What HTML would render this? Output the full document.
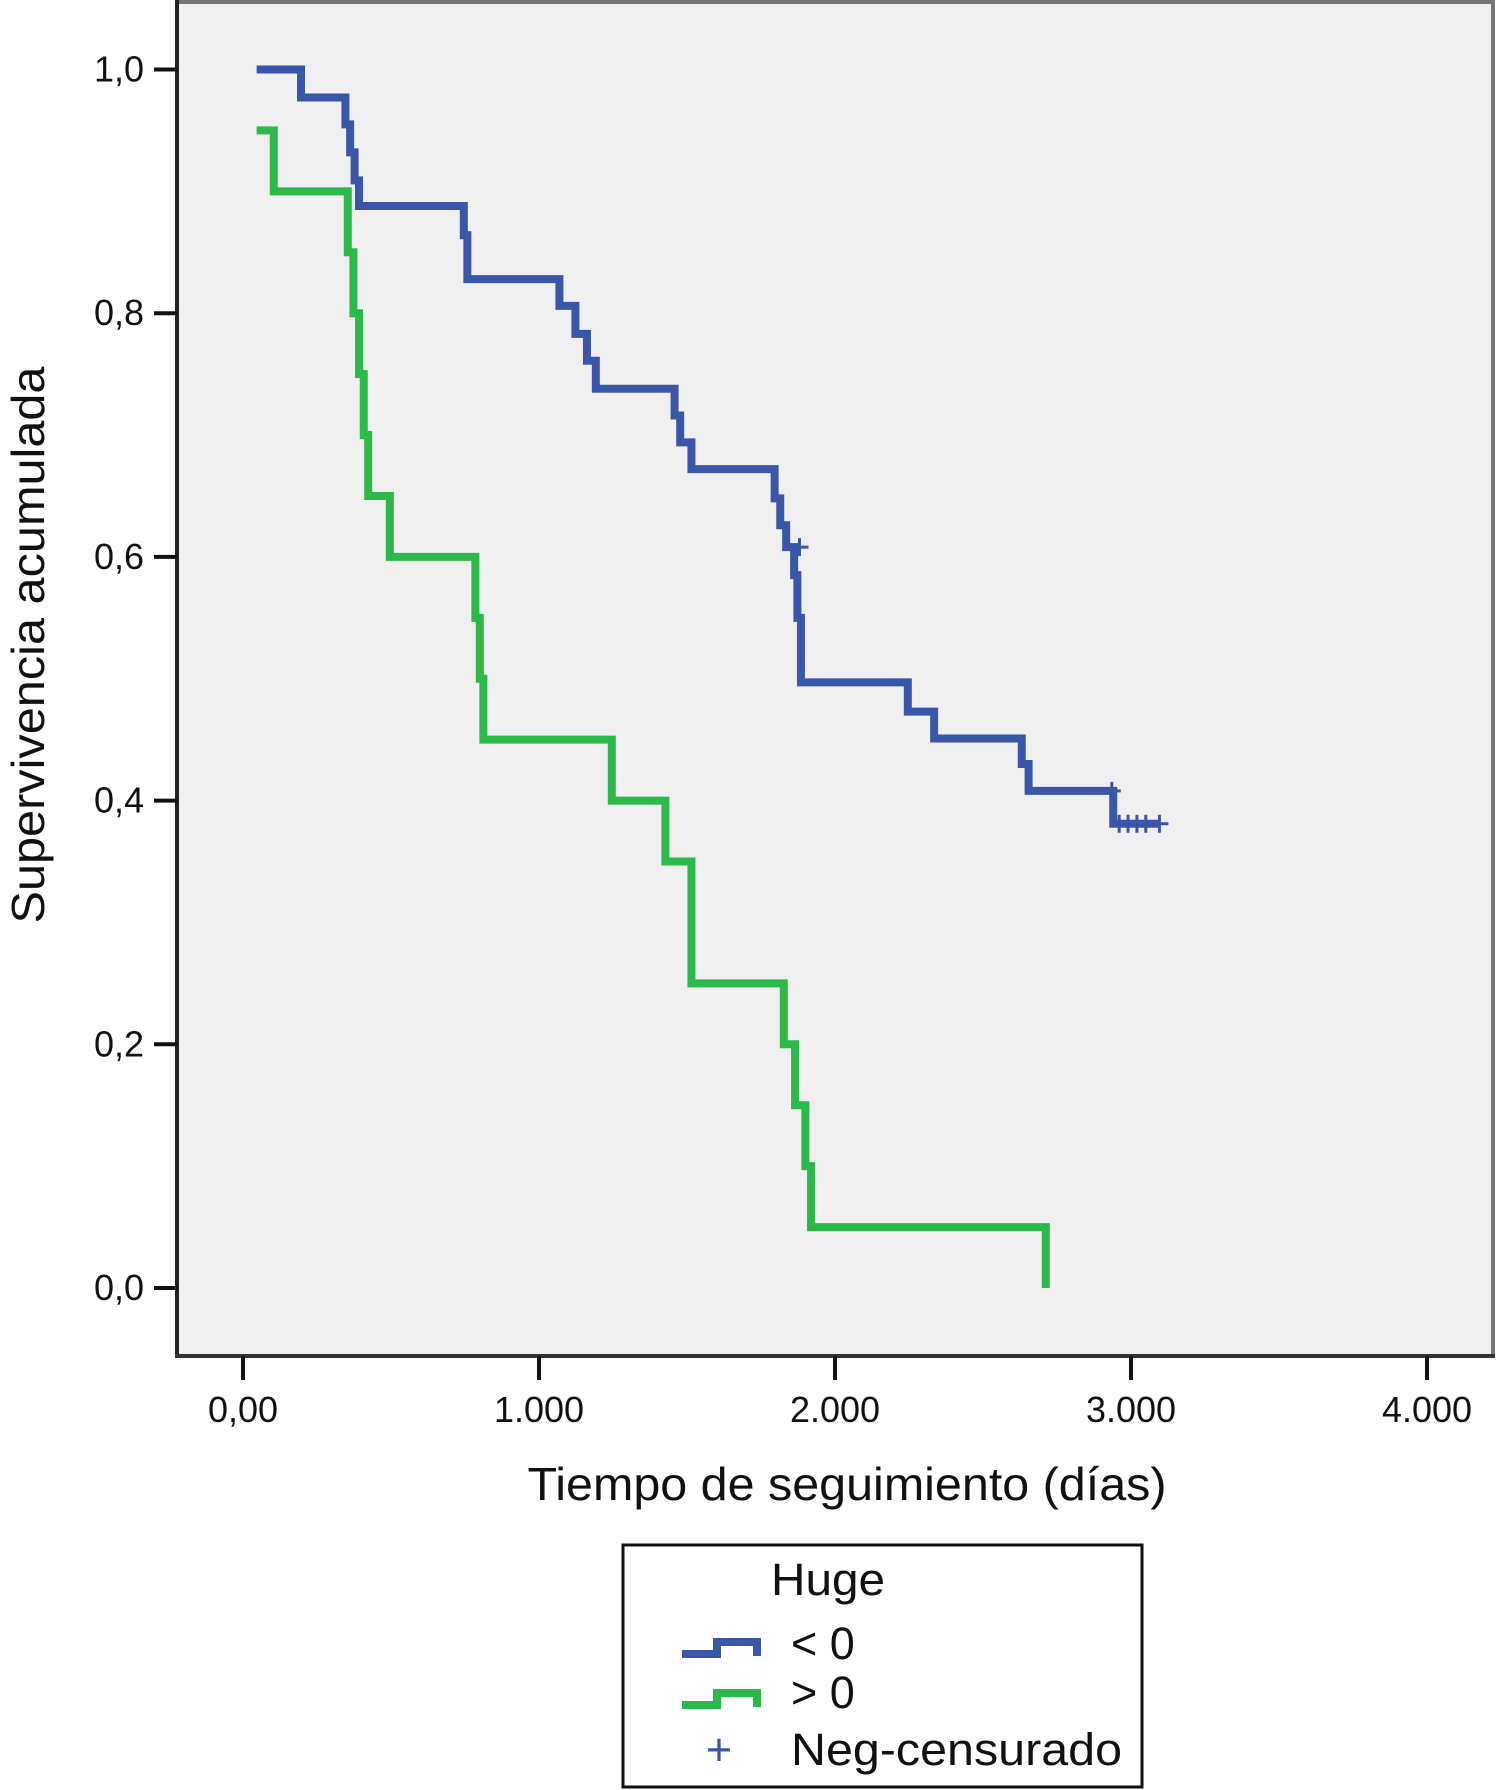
<!DOCTYPE html>
<html><head><meta charset="utf-8"><style>
html,body{margin:0;padding:0;background:#fff;}
svg{display:block;font-family:"Liberation Sans",sans-serif;}
</style></head><body>
<svg id="chart" width="1498" height="1790" viewBox="0 0 1498 1790" xmlns="http://www.w3.org/2000/svg">
<rect x="177" y="2" width="1316" height="1354" fill="#f0f0f0" stroke="#777" stroke-width="4"/>
<line x1="177" y1="0" x2="177" y2="1358" stroke="#222" stroke-width="4"/>
<line x1="175" y1="1356" x2="1495" y2="1356" stroke="#333" stroke-width="4"/>
<g id="yticks"></g>
<g id="xticks"></g>
<g id="series"></g>
<text x="847" y="1500" font-size="46" text-anchor="middle" textLength="639" lengthAdjust="spacingAndGlyphs" fill="#111">Tiempo de seguimiento (días)</text>
<text transform="translate(44,645) rotate(-90)" font-size="46" text-anchor="middle" textLength="557" lengthAdjust="spacingAndGlyphs" fill="#111">Supervivencia acumulada</text>
<g>
<rect x="623" y="1545" width="519" height="242" fill="#fff" stroke="#111" stroke-width="3"/>
<text x="771" y="1595" font-size="45" textLength="114" lengthAdjust="spacingAndGlyphs" fill="#111">Huge</text>
<path d="M682,1654 H717 V1642 H757 V1656" fill="none" stroke="#3a56a8" stroke-width="8"/>
<text x="791" y="1659" font-size="45" fill="#111">&lt; 0</text>
<path d="M682,1705 H717 V1693 H757 V1707" fill="none" stroke="#2db84a" stroke-width="8"/>
<text x="791" y="1708" font-size="45" fill="#111">&gt; 0</text>
<text x="719" y="1765" font-size="45" text-anchor="middle" fill="#3a56a8">+</text>
<text x="791" y="1765" font-size="45" textLength="331" lengthAdjust="spacingAndGlyphs" fill="#111">Neg-censurado</text>
</g>
</svg>
<script>
const yTickValues=[0,0.2,0.4,0.6,0.8,1.0];
const yTickLabels=["0,0","0,2","0,4","0,6","0,8","1,0"];
const xTickValues=[0,1000,2000,3000,4000];
const xTickLabels=["0,00","1.000","2.000","3.000","4.000"];
const blueTimes=[46,196,346,362,377,392,746,758,1069,1123,1162,1192,1458,1477,1515,1796,1815,1835,1862,1873,1885,2246,2335,2631,2654,2940];
const blueSurv=[1.0,0.977,0.955,0.932,0.909,0.888,0.864,0.828,0.806,0.783,0.761,0.738,0.716,0.694,0.672,0.648,0.626,0.608,0.585,0.55,0.497,0.473,0.451,0.43,0.408,0.381];
const blueEnd=3096;
const blueCensorTimes=[1880,2935,2960,2990,3020,3050,3096];
const blueCensorSurv=[0.608,0.408,0.381,0.381,0.381,0.381,0.381];
const greenTimes=[46,104,354,373,392,408,423,496,785,800,812,1246,1427,1515,1827,1865,1900,1919,2712];
const greenSurv=[0.95,0.90,0.85,0.80,0.75,0.70,0.65,0.60,0.55,0.50,0.45,0.40,0.35,0.25,0.20,0.15,0.10,0.05,0.0];
const X=v=>243+v*0.2960;
const Y=v=>1288-v*1218.5;
const NS="http://www.w3.org/2000/svg";
function mk(tag,attrs,parent){const e=document.createElementNS(NS,tag);for(const k in attrs)e.setAttribute(k,attrs[k]);parent.appendChild(e);return e;}
const yt=document.getElementById('yticks');
yTickValues.forEach((v,i)=>{
 const l=mk('line',{x1:154,x2:177,y1:Y(v),y2:Y(v),stroke:'#111','stroke-width':4},yt);
 
 
 const t=mk('text',{x:144,y:Y(v)+12,'font-size':36,'text-anchor':'end',fill:'#111'},yt);
 t.textContent=yTickLabels[i];
 
 
});
const xt=document.getElementById('xticks');
xTickValues.forEach((v,i)=>{
 const l=mk('line',{x1:X(v),x2:X(v),y1:1356,y2:1380,stroke:'#111','stroke-width':4},xt);
 
 
 const t=mk('text',{x:X(v),y:1422,'font-size':36,'text-anchor':'middle',fill:'#111'},xt);
 t.textContent=xTickLabels[i];
 
 
});
function stepPath(times,surv,end){
 let d='M'+X(times[0])+','+Y(surv[0]);
 for(let i=1;i<times.length;i++){d+=' H'+X(times[i])+' V'+Y(surv[i]);}
 if(end!=null)d+=' H'+X(end);
 return d;
}
const sg=document.getElementById('series');
const pb=mk('path',{d:stepPath(blueTimes,blueSurv,blueEnd),fill:'none',stroke:'#3a56a8','stroke-width':8,'stroke-linejoin':'miter'},sg);


const pg=mk('path',{d:stepPath(greenTimes,greenSurv,null),fill:'none',stroke:'#2db84a','stroke-width':8},sg);


blueCensorTimes.forEach((t,i)=>{
 const x=X(t),y=Y(blueCensorSurv[i]);
 const c=mk('path',{d:`M${x-9},${y} H${x+9} M${x},${y-9} V${y+9}`,stroke:'#3a56a8','stroke-width':3},sg);
 
 
});
</script>
</body></html>
